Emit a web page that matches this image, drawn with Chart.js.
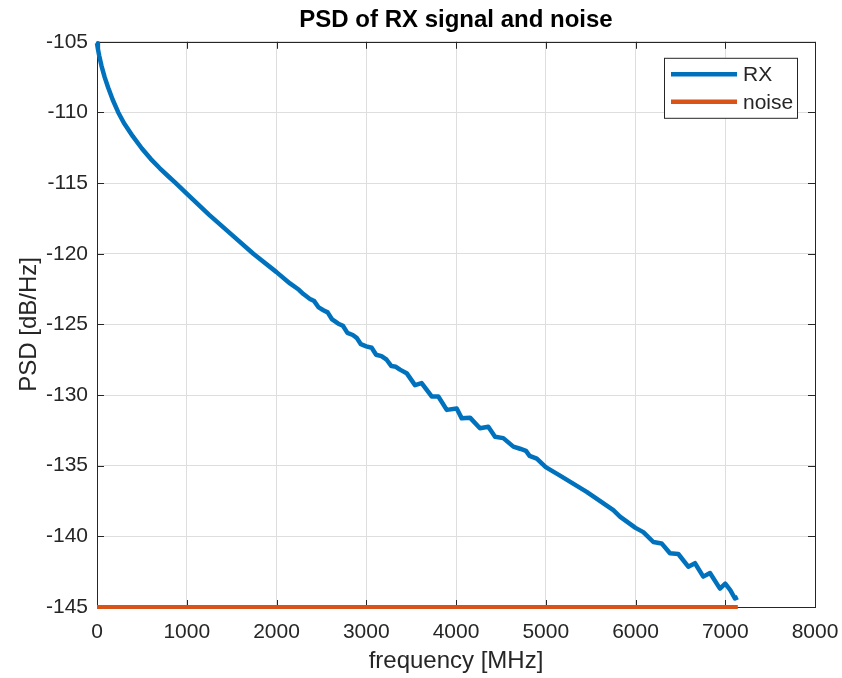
<!DOCTYPE html>
<html>
<head>
<meta charset="utf-8">
<title>PSD of RX signal and noise</title>
<script src="https://cdn.jsdelivr.net/npm/chart.js@4/dist/chart.umd.min.js"></script>
<style>
  html, body { margin: 0; padding: 0; background: #ffffff; }
  #wrap { width: 842px; height: 678px; }
</style>
</head>
<body>
<div id="wrap"><canvas id="psdChart" width="842" height="678"></canvas></div>
<script>
// RX PSD (frequency in MHz, PSD in dB/Hz)
const freqRx = [
  0, 10, 25, 50, 85, 125, 175, 237, 300, 400, 500, 600, 700, 800, 869, 1000,
  1250, 1500, 1742, 2000, 2150, 2250, 2300,
  2373, 2420, 2470, 2522, 2570, 2620, 2689, 2740, 2790, 2850, 2893, 2940, 3000, 3060,
  3110, 3170, 3227, 3280, 3330, 3376, 3450, 3543, 3617, 3729, 3803, 3897, 4008, 4064,
  4156, 4267, 4360, 4435, 4527, 4639, 4713, 4780, 4820, 4900, 5000, 5159, 5456, 5753,
  5827, 6000, 6087, 6199, 6291, 6384, 6477, 6588, 6663, 6755, 6830, 6941, 7000, 7056,
  7108, 7140
];
const psdRx = [
  -105.1, -105.5, -106.0, -106.7, -107.5, -108.25, -109.1, -110.0, -110.75, -111.7, -112.55, -113.3, -113.95, -114.55, -114.95, -115.75,
  -117.25, -118.65, -120.0, -121.3, -122.1, -122.55, -122.85,
  -123.2, -123.35, -123.8, -124.0, -124.15, -124.65, -124.95, -125.1, -125.6, -125.75, -125.95, -126.4, -126.55, -126.65,
  -127.15, -127.25, -127.5, -127.95, -128.0, -128.2, -128.45, -129.3, -129.15, -130.1, -130.1, -131.05, -130.95, -131.65,
  -131.6, -132.35, -132.25, -132.95, -133.05, -133.65, -133.8, -133.95, -134.3, -134.5, -135.1, -135.7, -136.85, -138.15,
  -138.6, -139.4, -139.7, -140.4, -140.5, -141.2, -141.25, -142.15, -141.9, -142.85, -142.6, -143.7, -143.35, -143.8,
  -144.4, -144.3
];

// noise floor
const freqNoise = [0, 7140];
const psdNoise = [-145, -145];

// axis ticks
const xTicks = [0, 1000, 2000, 3000, 4000, 5000, 6000, 7000, 8000];
const yTicks = [-145, -140, -135, -130, -125, -120, -115, -110, -105];

const seriesNames = ['RX', 'noise'];
const seriesColors = ['#0072BD', '#D95319'];

const FONT = '"Liberation Sans", Arial, Helvetica, sans-serif';
const INK = '#262626';

Chart.defaults.font.family = FONT;
Chart.defaults.color = INK;

function toPoints(xs, ys) {
  return xs.map((x, i) => ({ x: x, y: ys[i] }));
}

// Box round the axes with small inward ticks (MATLAB style)
const boxPlugin = {
  id: 'axesBox',
  beforeDatasetsDraw(chart) {
    const { ctx, chartArea: a, scales } = chart;
    const tl = 7;
    ctx.save();
    ctx.strokeStyle = INK;
    ctx.lineWidth = 1;
    ctx.beginPath();
    xTicks.forEach(v => {
      const px = Math.round(scales.x.getPixelForValue(v)) + 0.5;
      ctx.moveTo(px, a.bottom); ctx.lineTo(px, a.bottom - tl);
      ctx.moveTo(px, a.top); ctx.lineTo(px, a.top + tl);
    });
    yTicks.forEach(v => {
      const py = Math.round(scales.y.getPixelForValue(v)) + 0.5;
      ctx.moveTo(a.left, py); ctx.lineTo(a.left + tl, py);
      ctx.moveTo(a.right, py); ctx.lineTo(a.right - tl, py);
    });
    ctx.stroke();
    ctx.strokeRect(Math.round(a.left) + 0.5, Math.round(a.top) + 0.5,
      Math.round(a.right - a.left), Math.round(a.bottom - a.top));
    ctx.restore();
  }
};

// Framed legend in the upper right corner
const legendPlugin = {
  id: 'boxLegend',
  afterDraw(chart) {
    const { ctx, chartArea: a } = chart;
    const bx = a.right - 151, by = a.top + 16, bw = 133, bh = 60;
    ctx.save();
    ctx.fillStyle = '#ffffff';
    ctx.fillRect(bx, by, bw, bh);
    ctx.strokeStyle = INK;
    ctx.lineWidth = 1;
    ctx.strokeRect(bx + 0.5, by + 0.5, bw, bh);
    ctx.font = '21px ' + FONT;
    ctx.textBaseline = 'middle';
    chart.data.datasets.forEach((ds, i) => {
      const cy = by + 16.5 + i * 27.5;
      ctx.strokeStyle = ds.borderColor;
      ctx.lineWidth = 4.5;
      ctx.beginPath();
      ctx.moveTo(bx + 7, cy);
      ctx.lineTo(bx + 73, cy);
      ctx.stroke();
      ctx.fillStyle = INK;
      ctx.fillText(ds.label, bx + 79, cy + 1);
    });
    ctx.restore();
  }
};

new Chart(document.getElementById('psdChart'), {
  type: 'line',
  data: {
    datasets: [{
      label: seriesNames[0],
      data: toPoints(freqRx, psdRx),
      borderColor: seriesColors[0],
      borderWidth: 4.5,
      borderJoinStyle: 'round',
      pointRadius: 0,
      tension: 0,
      clip: 6
    }, {
      label: seriesNames[1],
      data: toPoints(freqNoise, psdNoise),
      borderColor: seriesColors[1],
      borderWidth: 4,
      pointRadius: 0,
      tension: 0,
      clip: 6
    }]
  },
  options: {
    responsive: false,
    animation: false,
    layout: { padding: { left: 0, right: 27, top: 0, bottom: 0 } },
    plugins: {
      legend: { display: false },
      tooltip: { enabled: false },
      title: {
        display: true,
        fullSize: false,
        text: 'PSD of RX signal and noise',
        color: '#000000',
        font: { size: 24, weight: 'bold' },
        padding: { top: 6, bottom: 7 }
      }
    },
    scales: {
      x: {
        type: 'linear',
        min: 0,
        max: 8000,
        afterBuildTicks: scale => { scale.ticks = xTicks.map(v => ({ value: v })); },
        afterFit: scale => { scale.height = 71; scale.paddingLeft = 0; scale.paddingRight = 0; },
        ticks: { font: { size: 21 }, padding: 13, maxRotation: 0, color: INK, callback: v => String(v) },
        grid: { color: '#dedede', lineWidth: 1, drawTicks: false },
        border: { display: false },
        title: {
          display: true,
          text: 'frequency [MHz]',
          font: { size: 24 },
          color: INK,
          padding: { top: 0, bottom: 2 }
        }
      },
      y: {
        type: 'linear',
        min: -145,
        max: -105,
        afterBuildTicks: scale => { scale.ticks = yTicks.map(v => ({ value: v })); },
        afterFit: scale => { scale.width = 97; scale.paddingTop = 0; scale.paddingBottom = 0; },
        ticks: { font: { size: 21 }, padding: 9, color: INK, callback: v => String(v) },
        grid: { color: '#dedede', lineWidth: 1, drawTicks: false },
        border: { display: false },
        title: {
          display: true,
          text: 'PSD [dB/Hz]',
          font: { size: 24 },
          color: INK,
          padding: { top: 15, bottom: 0 }
        }
      }
    }
  },
  plugins: [boxPlugin, legendPlugin]
});
</script>
</body>
</html>
